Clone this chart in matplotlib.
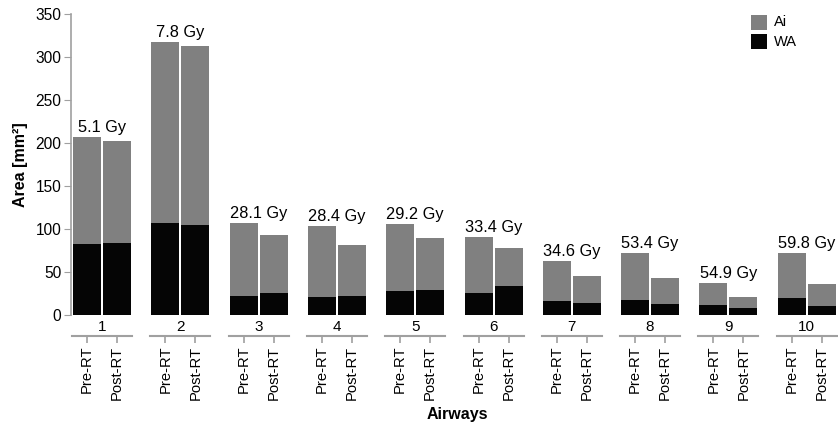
import matplotlib
matplotlib.use("Agg")
import matplotlib.pyplot as plt
import matplotlib.transforms as mtransforms
from matplotlib.patches import Rectangle
from matplotlib.lines import Line2D

plt.rcParams['font.family'] = ['Liberation Sans', 'DejaVu Sans']

# datos
airways = ['1', '2', '3', '4', '5', '6', '7', '8', '9', '10']
doses = ['5.1 Gy', '7.8 Gy', '28.1 Gy', '28.4 Gy', '29.2 Gy',
         '33.4 Gy', '34.6 Gy', '53.4 Gy', '54.9 Gy', '59.8 Gy']
phases = ['Pre-RT', 'Post-RT']
wa_pre = [83, 107, 22, 21, 28, 26, 16, 17, 12, 20]
ai_pre = [124, 210, 85, 82, 78, 65, 47, 55, 25, 52]
wa_post = [84, 105, 26, 22, 29, 34, 14, 13, 8, 10.5]
ai_post = [118, 208, 67, 59, 61, 44, 31, 30, 13, 25.5]

W, H = 838, 430
col_ai = '#808080'
col_wa = '#050505'
axis_col = '#a0a0a0'

fig = plt.figure(figsize=(W / 100, H / 100), dpi=100)
# ejes en pixeles: x 71..838, y 14..315
ax = fig.add_axes([71 / W, (H - 315) / H, (838 - 71) / W, (315 - 14) / H])

step = 78.3  # pixeles entre grupos
off = 15 / step
bw = 28 / step
xs = list(range(len(airways)))
x_pre = [x - off for x in xs]
x_post = [x + off for x in xs]
tops_pre = [w + a for w, a in zip(wa_pre, ai_pre)]

ax.bar(x_pre, wa_pre, width=bw, color=col_wa, linewidth=0)
ax.bar(x_pre, ai_pre, bottom=wa_pre, width=bw, color=col_ai, linewidth=0)
ax.bar(x_post, wa_post, width=bw, color=col_wa, linewidth=0)
ax.bar(x_post, ai_post, bottom=wa_post, width=bw, color=col_ai, linewidth=0)

# etiquetas de dosis sobre cada grupo
for x, t, d in zip(xs, tops_pre, doses):
    ax.annotate(d, (x, t), xytext=(0, 1.5), textcoords='offset points',
                ha='center', va='bottom', fontsize=11.8)

ax.set_xlim(-31 / step, (838 - 102) / step)
ax.set_ylim(0, 350)
ax.set_yticks(range(0, 351, 50))
ax.tick_params(axis='y', length=5, color=axis_col, labelsize=11.2, pad=2)
ax.spines['left'].set_color(axis_col)
ax.spines['left'].set_linewidth(1.2)
for s in ['top', 'right']:
    ax.spines[s].set_visible(False)

# eje x: Pre-RT / Post-RT bajo la linea de cada grupo
ax.spines['bottom'].set_position(('outward', 21 * 72 / 100))
ax.spines['bottom'].set_visible(False)
ax.set_xticks(x_pre + x_post)
ax.set_xticklabels([phases[0]] * len(xs) + [phases[1]] * len(xs),
                   rotation=90, fontsize=10.6)
ax.tick_params(axis='x', length=5, color=axis_col, width=1.2, pad=2)

tr = mtransforms.blended_transform_factory(ax.transData, fig.transFigure)
for x, name in zip(xs, airways):
    ax.text(x, (H - 327) / H, name, transform=tr, ha='center', va='center',
            fontsize=11, clip_on=False)
    ax.add_line(Line2D([x - 30 / step, x + 30 / step],
                       [(H - 336) / H] * 2, transform=tr, color=axis_col,
                       linewidth=1.5, clip_on=False))

fig.text(20 / W, 1 - 165 / H, 'Area [mm²]', rotation=90, ha='center',
         va='center', fontsize=11.5, fontweight='bold')
fig.text(457 / W, 1 - 414 / H, 'Airways', ha='center', va='center',
         fontsize=11.5, fontweight='bold')

# leyenda
fig.add_artist(Rectangle((751 / W, 1 - 30 / H), 16 / W, 15 / H,
                         transform=fig.transFigure, color=col_ai, lw=0))
fig.add_artist(Rectangle((751 / W, 1 - 49 / H), 16 / W, 15 / H,
                         transform=fig.transFigure, color=col_wa, lw=0))
fig.text(774 / W, 1 - 22 / H, 'Ai', va='center', fontsize=10.5)
fig.text(774 / W, 1 - 42 / H, 'WA', va='center', fontsize=10.5)

fig.savefig('out.png', dpi=100)
